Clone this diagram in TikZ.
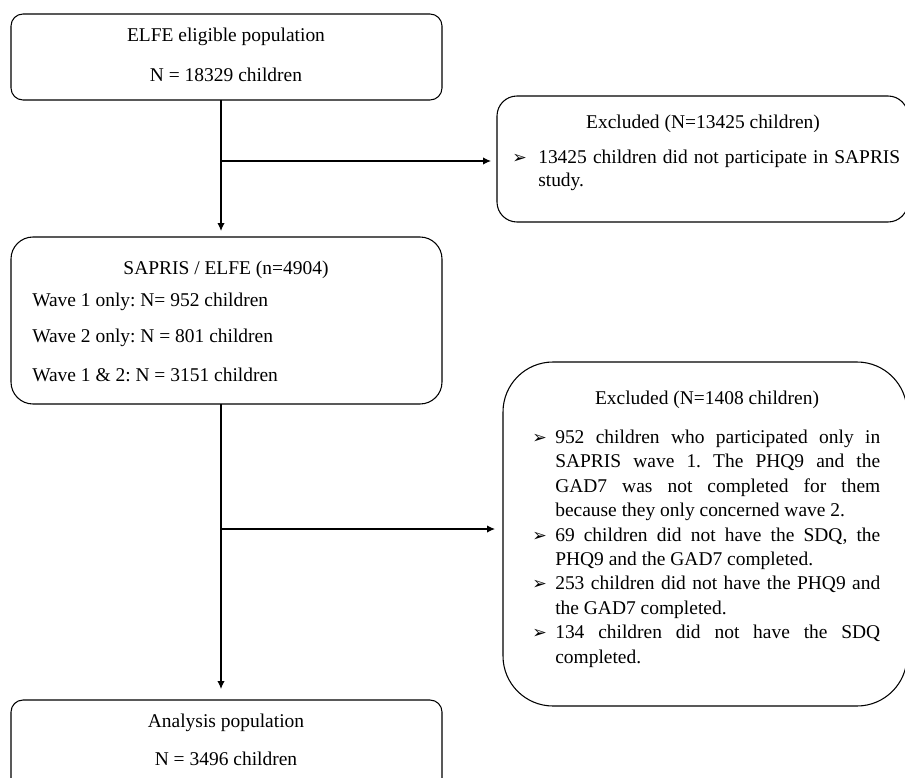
\documentclass[tikz,border=0pt]{standalone}
\usepackage{fontspec}
\setmainfont{Liberation Serif}
\newfontfamily\dejavu{DejaVu Sans}
\usetikzlibrary{arrows.meta}
\newcommand{\bul}{{\dejavu\fontsize{13pt}{13pt}\selectfont ➢}}
\newcommand{\bitem}[1]{\leavevmode\llap{\makebox[#1][l]{\bul}}}
\tikzset{
  box/.style={draw=black, line width=0.8pt, inner sep=0pt, outer sep=0pt},
  txt/.style={inner sep=0pt, font=\fontsize{14.6pt}{17.5pt}\selectfont},
  conn/.style={line width=0.8pt, -{Latex[length=6pt,width=5.5pt]}}
}
\begin{document}
\frenchspacing
\begin{tikzpicture}[x=0.75pt,y=-0.75pt]
\useasboundingbox (0,0) rectangle (905,777);
\clip (0,0) rectangle (905,777);
% boxes
\node[box, rounded corners=9pt, minimum width=323.25pt, minimum height=64.5pt] (elig) at (226.5,57) {};
\node[box, rounded corners=16.5pt, minimum width=323.25pt, minimum height=125.25pt] (sapris) at (226.5,320.5) {};
\node[box, rounded corners=15pt, minimum width=308.25pt, minimum height=94.5pt] (excl1) at (702.5,159) {};
\node[box, rounded corners=37.5pt, minimum width=303pt, minimum height=258pt] (excl2) at (705,534) {};
\node[box, rounded corners=9pt, minimum width=323.25pt, minimum height=75pt] (anal) at (226.5,750) {};
% texts
\node[txt] (t1a) at (226,37) {ELFE eligible population};
\node[txt] (t1b) at (226,75) {N = 18329 children};
\node[txt] (t2a) at (226,270) {SAPRIS / ELFE (n=4904)};
\node[txt, anchor=west] (t2b) at (32,302) {Wave 1 only: N= 952 children};
\node[txt, anchor=west] (t2c) at (32,338) {Wave 2 only: N = 801 children};
\node[txt, anchor=west] (t2d) at (32,375) {Wave 1 \& 2: N = 3151 children};
\node[txt] (t3a) at (703,124) {Excluded (N=13425 children)};
\node[txt, anchor=base west, text width=271.5pt, align=justify] (t3b) at (538,163.5)
  {\parindent=0pt\setlength{\baselineskip}{18pt}\bitem{19.5pt}13425 children did not participate in SAPRIS\linebreak study.};
\node[txt] (t4a) at (707,400) {Excluded (N=1408 children)};
\node[txt, anchor=base west, text width=243.75pt, align=justify] (t4b) at (555,443.5)
  {\parindent=0pt\setlength{\baselineskip}{18.3pt}%
  \bitem{17.25pt}952 children who participated only in\linebreak SAPRIS wave 1. The PHQ9 and the\linebreak GAD7 was not completed for them\linebreak because they only concerned wave 2.\par
  \bitem{17.25pt}69 children did not have the SDQ, the\linebreak PHQ9 and the GAD7 completed.\par
  \bitem{17.25pt}253 children did not have the PHQ9 and\linebreak the GAD7 completed.\par
  \bitem{17.25pt}134 children did not have the SDQ\linebreak completed.\par};
\node[txt] (t5a) at (226,723) {Analysis population};
\node[txt] (t5b) at (226,759) {N = 3496 children};
% connectors
\coordinate (vx) at (221,0);
\coordinate (j1) at (221,161);
\coordinate (j2) at (221,529);
\draw[conn, shorten >=4.5pt] (vx |- elig.south) -- (vx |- sapris.north);
\draw[conn, shorten >=4.5pt] (j1) -- (j1 -| excl1.west);
\draw[conn, shorten >=8.25pt] (vx |- sapris.south) -- (vx |- anal.north);
\draw[conn, shorten >=6pt] (j2) -- (j2 -| excl2.west);
\end{tikzpicture}
\end{document}
